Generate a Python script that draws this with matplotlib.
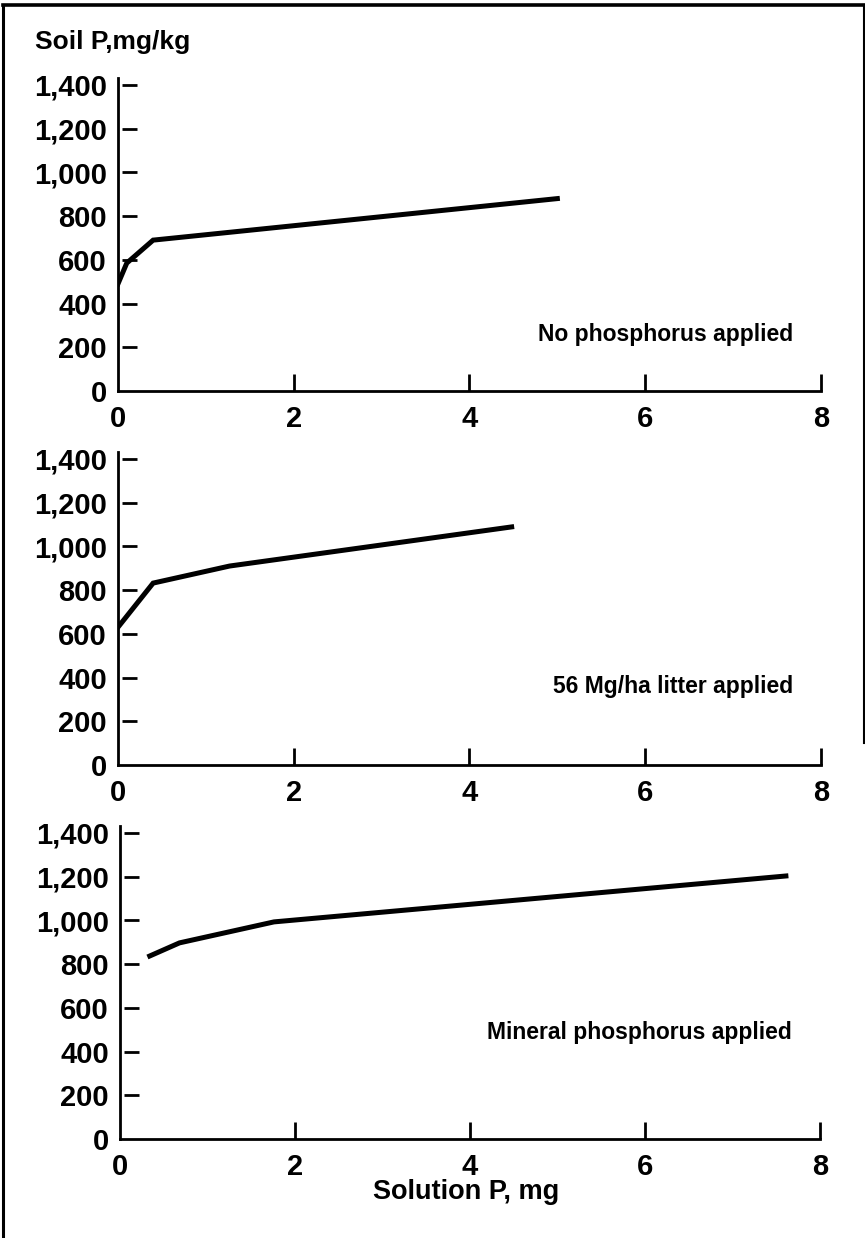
import matplotlib.pyplot as plt
from matplotlib.lines import Line2D

plt.rcParams['font.family'] = ['Liberation Sans', 'DejaVu Sans']

# sorption curves, solution P (mg) against soil P (mg/kg)
none_x = [0.0, 0.1, 0.4, 1.25, 5.0]
none_y = [490, 585, 690, 725, 880]

litter_x = [0.0, 0.4, 1.27, 4.48]
litter_y = [630, 832, 910, 1089]

mineral_x = [0.34, 0.68, 1.76, 7.61]
mineral_y = [837, 897, 993, 1203]

panel_names = ['No phosphorus applied', '56 Mg/ha litter applied', 'Mineral phosphorus applied']
x_ticks = [0, 2, 4, 6, 8]
y_ticks = [0, 200, 400, 600, 800, 1000, 1200, 1400]
y_labels = ['0', '200', '400', '600', '800', '1,000', '1,200', '1,400']

fig = plt.figure(figsize=(8.65, 12.38), dpi=100)

# axes boxes in figure fractions: left, bottom, width, height
boxes = [
    [0.1364, 0.6842, 0.8127, 0.2525],
    [0.1364, 0.3821, 0.8127, 0.2525],
    [0.1387, 0.0800, 0.8093, 0.2525],
]
curves = [(none_x, none_y), (litter_x, litter_y), (mineral_x, mineral_y)]
label_y = [256, 361, 489]

for box, (xs, ys), name, ly in zip(boxes, curves, panel_names, label_y):
    ax = fig.add_axes(box)
    ax.plot(xs, ys, color='black', lw=3.6, solid_joinstyle='miter')
    ax.set_xlim(0, 8)
    ax.set_ylim(0, 1430)
    for s in ['top', 'right']:
        ax.spines[s].set_visible(False)
    for s in ['left', 'bottom']:
        ax.spines[s].set_linewidth(2.0)

    ax.set_xticks(x_ticks)
    ax.set_xticklabels([str(v) for v in x_ticks], fontsize=21, fontweight='bold')
    ax.tick_params(axis='x', direction='in', length=12, width=2.0, pad=10)
    ax.xaxis.get_major_ticks()[0].tick1line.set_visible(False)

    # y ticks drawn as short dashes set off a little from the axis line
    ax.set_yticks(y_ticks)
    ax.set_yticklabels(y_labels, fontsize=21, fontweight='bold')
    ax.tick_params(axis='y', length=0, pad=8)
    ax.hlines(y_ticks[1:], 0.006, 0.027, transform=ax.get_yaxis_transform(),
              color='black', lw=2.0, clip_on=False)

    ax.text(0.96, ly, name, transform=ax.get_yaxis_transform(),
            ha='right', va='center', fontsize=16.5, fontweight='bold')

fig.text(0.04, 0.966, 'Soil P,mg/kg', fontsize=19, fontweight='bold', ha='left', va='center')
fig.text(0.539, 0.037, 'Solution P, mg', fontsize=19.5, fontweight='bold', ha='center', va='center')

# outer frame
fig.add_artist(Line2D([0.004, 0.004], [0.0, 0.996], color='black', lw=2.2))
fig.add_artist(Line2D([0.004, 0.999], [0.996, 0.996], color='black', lw=2.6))
fig.add_artist(Line2D([0.999, 0.999], [0.4, 0.996], color='black', lw=1.5))

fig.savefig('out.png', dpi=100)
